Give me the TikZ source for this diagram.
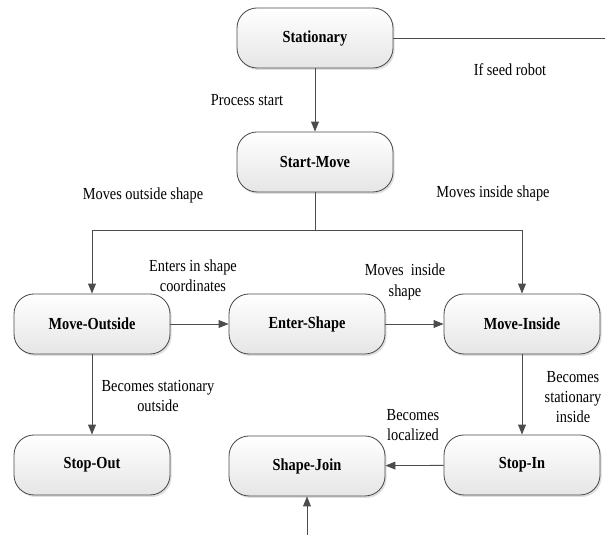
\documentclass[tikz,border=0pt]{standalone}
\usepackage{fontspec}
\setmainfont{Liberation Serif}[FakeStretch=0.85]
\usetikzlibrary{arrows.meta,shadows}

\tikzset{
	statebox/.style={draw=black!70, line width=0.6pt, rounded corners=0.5cm, minimum width=3.9cm, minimum height=1.5cm, top color=white, bottom color=black!10, drop shadow={opacity=0.25, shadow xshift=0.04cm, shadow yshift=-0.05cm}, font=\fontsize{12}{14}\selectfont\bfseries},
	flow/.style={draw=black!70, line width=0.6pt, -{Triangle[length=7pt,width=5.5pt]}},
	wire/.style={draw=black!70, line width=0.6pt},
	note/.style={align=center, font=\fontsize{12}{14.5}\selectfont}
}

\begin{document}
\begin{tikzpicture}
	\useasboundingbox (0 cm,0 cm) rectangle (15.125 cm,13.375 cm);
	\node[statebox] (Stationary) at (7.875 cm,12.425 cm) {Stationary};
	\node[statebox] (Start Move) at (7.875 cm,9.325 cm) {Start-Move};
	\node[statebox] (Move Outside) at (2.3 cm,5.275 cm) {Move-Outside};
	\node[statebox] (Enter Shape) at (7.675 cm,5.275 cm) {Enter-Shape};
	\node[statebox] (Move Inside) at (13.05 cm,5.275 cm) {Move-Inside};
	\node[statebox] (Stop Out) at (2.3 cm,1.75 cm) {Stop-Out};
	\node[statebox] (Shape Join) at (7.675 cm,1.725 cm) {Shape-Join};
	\node[statebox] (Stop In) at (13.05 cm,1.75 cm) {Stop-In};
	\coordinate (Seed End) at (15.125 cm,12.425 cm);
	\coordinate (Split) at (7.875 cm,7.625 cm);
	\coordinate (Join Start) at (7.675 cm,0 cm);
	\draw[wire] (Stationary) -- (Seed End);
	\draw[flow] (Stationary) -- (Start Move);
	\draw[wire] (Start Move) -- (Split);
	\draw[flow] (Split) -| (Move Outside);
	\draw[flow] (Split) -| (Move Inside);
	\draw[flow] (Move Outside) -- (Enter Shape);
	\draw[flow] (Enter Shape) -- (Move Inside);
	\draw[flow] (Move Outside) -- (Stop Out);
	\draw[flow] (Move Inside) -- (Stop In);
	\draw[flow] (Stop In) -- (Shape Join);
	\draw[flow] (Join Start) -- (Shape Join);
	\node[note] (Seed Label) at (12.75 cm,11.625 cm) {If seed robot};
	\node[note] (Start Label) at (6.175 cm,10.875 cm) {Process start};
	\node[note] (Outside Label) at (3.575 cm,8.5 cm) {Moves outside shape};
	\node[note] (Inside Label) at (12.325 cm,8.55 cm) {Moves inside shape};
	\node[note] (Enters Label) at (4.825 cm,6.475 cm) {Enters in shape\\coordinates};
	\node[note] (Moves Label) at (10.125 cm,6.325 cm) {Moves\ \ inside\\shape};
	\node[note] (Stop Out Label) at (3.95 cm,3.475 cm) {Becomes stationary\\outside};
	\node[note] (Stop In Label) at (14.325 cm,3.45 cm) {Becomes\\stationary\\inside};
	\node[note] (Local Label) at (10.325 cm,2.75 cm) {Becomes\\localized};
\end{tikzpicture}
\end{document}
